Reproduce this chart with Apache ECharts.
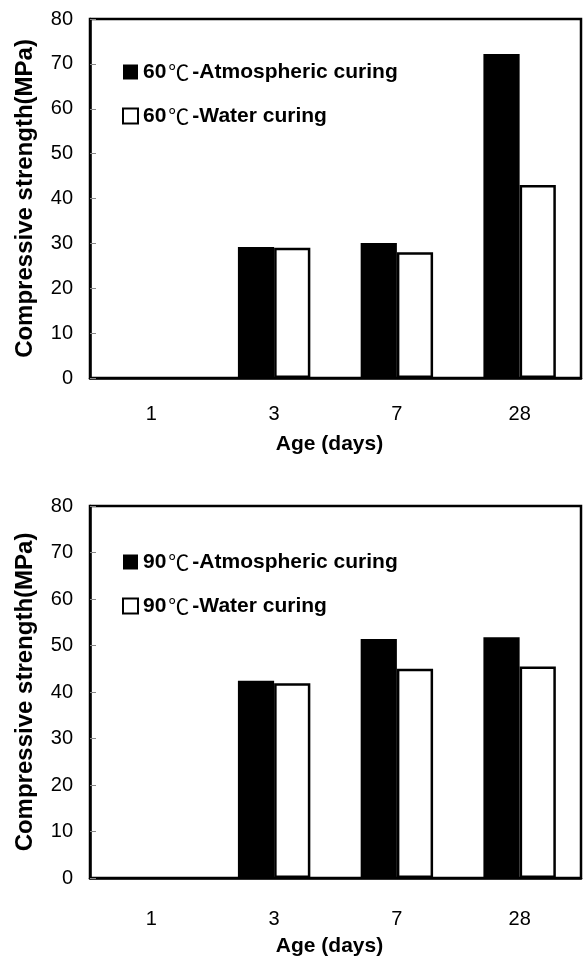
<!DOCTYPE html>
<html>
<head>
<meta charset="utf-8">
<script src="https://cdn.jsdelivr.net/npm/echarts@6/dist/echarts.min.js"></script>
<style>
html,body{margin:0;padding:0;background:#fff;}
#c{width:583px;height:960px;}
</style>
</head>
<body>
<div id="c"></div>
<script>
var ages = ['1', '3', '7', '28'];
var yTicks = [0, 10, 20, 30, 40, 50, 60, 70, 80];
var atm60 = [null, 29.2, 30.1, 72.2];
var water60 = [null, 29.0, 28.0, 43.0];
var atm90 = [null, 42.4, 51.4, 51.8];
var water90 = [null, 41.9, 45.0, 45.5];
var names60 = ['60℃-Atmospheric curing', '60℃-Water curing'];
var names90 = ['90℃-Atmospheric curing', '90℃-Water curing'];

var FONT = '"Liberation Sans", Arial, sans-serif';
var chart = echarts.init(document.getElementById('c'), null, {renderer: 'canvas'});

function yAxis(idx) {
  return {
    gridIndex: idx, type: 'value', min: yTicks[0], max: yTicks[yTicks.length - 1], interval: 10,
    name: 'Compressive strength(MPa)', nameLocation: 'middle', nameRotate: 90, nameGap: 53,
    nameTextStyle: {fontFamily: FONT, fontWeight: 'bold', fontSize: 24, color: '#000'},
    axisLine: {show: true, lineStyle: {color: '#000', width: 2.5}},
    axisTick: {show: true, inside: true, length: 6, lineStyle: {color: '#888', width: 1}},
    axisLabel: {fontFamily: FONT, fontSize: 20, color: '#000', margin: 17},
    splitLine: {show: false}
  };
}
function xAxis(idx, margin, gap) {
  return {
    gridIndex: idx, type: 'category', data: ages,
    name: 'Age (days)', nameLocation: 'middle', nameGap: gap,
    nameTextStyle: {fontFamily: FONT, fontWeight: 'bold', fontSize: 21, color: '#000', padding: [0, 12, 0, 0]},
    axisLine: {show: true, lineStyle: {color: '#000', width: 2.5}},
    axisTick: {show: false},
    axisLabel: {fontFamily: FONT, fontSize: 20, color: '#000', margin: margin},
    splitLine: {show: false}
  };
}
var blackStyle = {color: '#000', borderColor: '#000', borderWidth: 2};
var whiteStyle = {color: '#fff', borderColor: '#000', borderWidth: 2.5};
function legend(top, names) {
  return {
    orient: 'vertical', left: 122, top: top, padding: 0, itemGap: 22, itemWidth: 15, itemHeight: 15,
    icon: 'rect',
    formatter: function (n) { return n.replace('℃', '{c|℃}'); },
    textStyle: {
      fontFamily: FONT, fontWeight: 'bold', fontSize: 21, color: '#000', lineHeight: 22,
      rich: {c: {fontFamily: '"Noto Sans CJK SC", sans-serif', fontWeight: 'normal', fontSize: 21, color: '#000', lineHeight: 22, padding: [0, 3, 0, 2]}}
    },
    data: [
      {name: names[0], itemStyle: {color: '#000', borderColor: '#000', borderWidth: 0}},
      {name: names[1], itemStyle: {color: '#fff', borderColor: '#000', borderWidth: 2}}
    ]
  };
}

chart.setOption({
  animation: false,
  backgroundColor: '#fff',
  grid: [
    {left: 90, top: 19, width: 491, height: 359, show: true, borderColor: '#000', borderWidth: 2.5, containLabel: false},
    {left: 90, top: 506, width: 491, height: 372, show: true, borderColor: '#000', borderWidth: 2.5, containLabel: false}
  ],
  xAxis: [xAxis(0, 26, 56), xAxis(1, 31, 58)],
  yAxis: [yAxis(0), yAxis(1)],
  legend: [legend(61, names60), legend(551, names90)],
  series: [
    {name: names60[0], type: 'bar', xAxisIndex: 0, yAxisIndex: 0, data: atm60, itemStyle: blackStyle, barGap: '0%', barCategoryGap: '41%'},
    {name: names60[1], type: 'bar', xAxisIndex: 0, yAxisIndex: 0, data: water60, itemStyle: whiteStyle, barGap: '0%', barCategoryGap: '41%'},
    {name: names90[0], type: 'bar', xAxisIndex: 1, yAxisIndex: 1, data: atm90, itemStyle: blackStyle, barGap: '0%', barCategoryGap: '41%'},
    {name: names90[1], type: 'bar', xAxisIndex: 1, yAxisIndex: 1, data: water90, itemStyle: whiteStyle, barGap: '0%', barCategoryGap: '41%'}
  ]
});
</script>
</body>
</html>
